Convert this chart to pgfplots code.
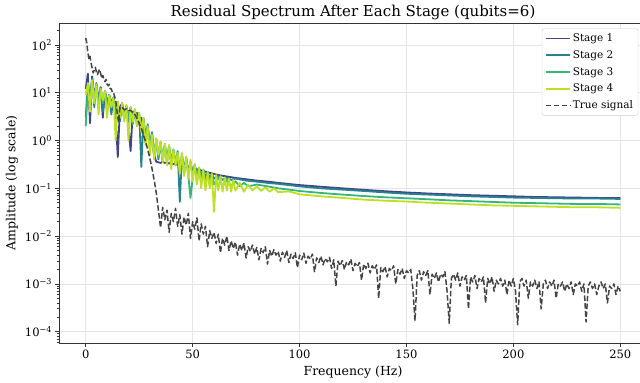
\documentclass[border=0pt]{standalone}
\usepackage{fontspec}
\setmainfont{DejaVu Serif}
\usepackage{pgfplots}
\pgfplotsset{compat=1.18}
\definecolor{stageone}{HTML}{414487}
\definecolor{stagetwo}{HTML}{26828E}
\definecolor{stagethree}{HTML}{35B779}
\definecolor{stagefour}{HTML}{BDDF26}
\definecolor{truesig}{HTML}{444444}
\begin{document}
\begin{tikzpicture}
\begin{axis}[name=ax,
  scale only axis, width=588bp, height=320bp,
  xmin=-12.5, xmax=262.5, ymode=log, ymin=5.8e-5, ymax=288,
  xtick={0,50,100,150,200,250},
  ytick={1e-4,1e-3,1e-2,1e-1,1,10,100},
  yticklabels={10\textsuperscript{−4},10\textsuperscript{−3},10\textsuperscript{−2},10\textsuperscript{−1},10\textsuperscript{0},10\textsuperscript{1},10\textsuperscript{2}},
  minor ytick={6e-5,7e-5,8e-5,9e-5,2e-4,3e-4,4e-4,5e-4,6e-4,7e-4,8e-4,9e-4,2e-3,3e-3,4e-3,5e-3,6e-3,7e-3,8e-3,9e-3,0.02,0.03,0.04,0.05,0.06,0.07,0.08,0.09,0.2,0.3,0.4,0.5,0.6,0.7,0.8,0.9,2,3,4,5,6,7,8,9,20,30,40,50,60,70,80,90,200},
  /pgf/number format/assume math mode=true,
  tick pos=left, tick align=outside,
  major tick length=3.5bp, minor tick length=2bp,
  tick style={line width=0.8bp, draw=black!80},
  axis line style={line width=0.8bp, draw=black!80},
  grid=major, grid style={line width=0.8bp, draw=black!10},
  tick label style={font=\fontsize{11.5bp}{13bp}\selectfont},
  label style={font=\fontsize{12.5bp}{15bp}\selectfont},
  title style={font=\fontsize{15bp}{18bp}\selectfont, yshift=-6bp},
  title={Residual Spectrum After Each Stage (qubits=6)},
  xlabel={Frequency (Hz)},
  ylabel={Amplitude (log scale)},
  legend cell align=left,
  legend style={at={(0.985,0.9825)}, anchor=north east, draw=black!20, rounded corners=2bp,
    fill=white, font=\fontsize{10.5bp}{12.6bp}\selectfont,
    row sep=3.5bp, inner xsep=3bp, inner ysep=3bp},
  legend image code/.code={\draw[#1] plot coordinates {(0bp,0bp) (24bp,0bp)};},
  every axis plot/.append style={line join=round},
]
\addplot[forget plot, color=stageone, line width=1.8bp] coordinates {
(0,12)(1,25)(2,2.3)(3,22)(4,8)(5,15)(6,6)(7,13)(8,3)(9,11)(10,5)(11,9)(12,6)(13,8)(14,3)(15,0.45)(16,5)(17,6)(18,3.5)(19,5)(20,2)(21,0.6)(22,4)(23,3)(24,3.8)(25,2.5)(26,3)(27,1.5)(28,0.9)(29,1.6)(30,0.9)(31,1.1)(32,0.5)(33,0.36)(34,0.35)(35,0.34)(36,0.36)(37,0.34)(38,0.35)(39,0.33)(40,0.34)(41,0.32)(42,0.33)(43,0.31)(44,0.31)(45,0.29)(46,0.3)(47,0.28)(48,0.27)(50,0.26)(52,0.25)(55,0.23)(58,0.21)(60,0.2)(62,0.19)(65,0.18)(70,0.165)(75,0.155)(80,0.145)(86,0.137)(90,0.13)(100,0.117)(110,0.108)(120,0.1)(130,0.093)(140,0.087)(150,0.082)(160,0.078)(170,0.075)(180,0.072)(190,0.07)(200,0.068)(210,0.066)(220,0.065)(230,0.064)(240,0.063)(250,0.063)
};
\addplot[forget plot, color=stagetwo, line width=1.8bp] coordinates {
(0,3)(1,14)(2,8)(3,20)(4,5)(5,16)(6,7)(7,13)(8,4)(9,11)(10,6)(11,9)(12,3.5)(13,8)(14,4)(15,6.5)(16,2.5)(17,6)(18,3)(19,5.5)(20,2.5)(21,5)(22,3)(23,4.5)(24,2)(25,3.8)(26,0.28)(27,3)(28,1.2)(29,2.2)(30,0.8)(31,1.5)(32,0.5)(33,1.0)(34,0.4)(35,0.9)(36,0.35)(37,0.8)(38,0.4)(39,0.75)(40,0.35)(41,0.65)(42,0.3)(43,0.6)(44,0.052)(45,0.5)(46,0.25)(47,0.42)(48,0.22)(49,0.36)(50,0.2)(51,0.3)(52,0.19)(53,0.27)(54,0.18)(55,0.24)(56,0.17)(57,0.22)(58,0.165)(59,0.2)(60,0.16)(62,0.18)(64,0.15)(66,0.17)(68,0.15)(70,0.16)(75,0.145)(80,0.138)(85,0.13)(90,0.124)(100,0.11)(110,0.1)(120,0.094)(130,0.088)(140,0.082)(150,0.077)(160,0.074)(170,0.071)(180,0.068)(190,0.066)(200,0.064)(210,0.063)(220,0.062)(230,0.061)(240,0.061)(250,0.06)
};
\addplot[forget plot, color=stagethree, line width=1.8bp] coordinates {
(0,2)(1,12)(2,6)(3,19)(4,7)(5,15)(6,5)(7,12)(8,6)(9,10)(10,4)(11,9)(12,5)(13,7.5)(14,3)(15,6)(16,3.5)(17,5.5)(18,2.8)(19,5)(20,3)(21,4.8)(22,2.2)(23,4.2)(24,2.5)(25,3.5)(26,1.8)(27,2.8)(28,1.0)(29,2)(30,0.7)(31,1.4)(32,0.45)(33,1.1)(34,0.45)(35,0.95)(36,0.4)(37,0.85)(38,0.35)(39,0.8)(40,0.3)(41,0.65)(42,0.35)(43,0.55)(44,0.25)(45,0.5)(46,0.2)(47,0.45)(48,0.18)(49,0.063)(50,0.16)(51,0.32)(52,0.14)(53,0.27)(54,0.13)(55,0.24)(56,0.12)(57,0.21)(58,0.12)(59,0.19)(60,0.12)(62,0.17)(64,0.11)(66,0.15)(68,0.11)(70,0.14)(72,0.11)(74,0.13)(76,0.11)(80,0.12)(85,0.11)(90,0.1)(100,0.088)(110,0.08)(120,0.074)(130,0.069)(140,0.065)(150,0.062)(160,0.059)(170,0.056)(180,0.054)(190,0.052)(200,0.05)(210,0.049)(220,0.048)(230,0.047)(240,0.047)(250,0.046)
};
\addplot[forget plot, color=stagefour, line width=1.8bp] coordinates {
(0,9)(1,16)(2,4)(3,18)(4,6)(5,15)(6,3.5)(7,12)(8,7)(9,11)(10,3)(11,9)(12,5)(13,8)(14,1.0)(15,6.5)(16,3)(17,6)(18,2.5)(19,5.5)(20,1.0)(21,5)(22,2.5)(23,4.5)(24,2)(25,3.8)(26,1.5)(27,3)(28,0.8)(29,2)(30,0.5)(31,1.3)(32,0.4)(33,1.1)(34,0.5)(35,0.95)(36,0.35)(37,0.85)(38,0.3)(39,0.8)(40,0.25)(41,0.65)(42,0.3)(43,0.55)(44,0.2)(45,0.55)(46,0.18)(47,0.45)(48,0.16)(49,0.4)(50,0.14)(51,0.32)(52,0.12)(53,0.27)(54,0.1)(55,0.25)(56,0.09)(57,0.22)(58,0.1)(59,0.2)(60,0.032)(61,0.19)(62,0.09)(63,0.18)(64,0.085)(65,0.17)(66,0.09)(67,0.16)(68,0.085)(69,0.15)(70,0.09)(72,0.13)(74,0.085)(76,0.12)(78,0.09)(80,0.11)(82,0.088)(84,0.105)(86,0.085)(88,0.1)(90,0.083)(95,0.086)(100,0.075)(110,0.068)(120,0.063)(130,0.058)(140,0.055)(150,0.053)(160,0.05)(170,0.048)(180,0.046)(190,0.044)(200,0.043)(210,0.042)(220,0.041)(230,0.040)(240,0.040)(250,0.039)
};
\addplot[forget plot, color=truesig, line width=1.5bp, dash pattern=on 5.5bp off 2.4bp] coordinates {
(0,140)(0.5,110)(1,70)(1.5,50)(2,58)(2.5,42)(3,33)(3.5,26)(4,30)(4.5,34)(5,27)(5.5,24)(6,28)(6.5,31)(7,25)(7.5,20)(8,23)(8.5,19)(9,17)(9.5,19)(10,15)(10.5,14)(11,15)(11.5,12)(12,12)(12.5,10)(13,10)(14,7)(15,3)(15.5,2.4)(16,5)(17,5)(18,4.4)(19,4.6)(20,4.2)(21,4.3)(22,3.8)(23,3.5)(24,2.9)(25,2.3)(26,1.8)(27,1.3)(28,0.95)(29,0.65)(30,0.42)(31,0.26)(32,0.15)(33,0.08)(34,0.035)(35,0.015)
(36,0.04)(37,0.022)(38,0.035)(39,0.012)(40,0.03)(41,0.02)(42,0.038)(43,0.016)(44,0.028)(45,0.011)(46,0.025)(47,0.017)(48,0.03)(49,0.009)(50,0.02)(51,0.014)(52,0.024)(53,0.008)(54,0.018)(55,0.011)(56,0.016)(57,0.006)(58,0.013)(59,0.009)(60,0.012)(61,0.007)(62,0.011)(63,0.0045)(64,0.009)(65,0.0065)(66,0.01)(67,0.005)(68,0.008)(69,0.0055)(70,0.0075)(71,0.004)(72,0.0068)(73,0.005)(74,0.0072)(75,0.0035)(76,0.006)(77,0.0048)(78,0.0065)(79,0.0042)(80,0.0058)(81,0.0032)(82,0.0055)(83,0.0045)(84,0.006)(85,0.0026)(86,0.005)(87,0.0038)(88,0.0052)(89,0.004)(90,0.0048)(91,0.003)(92,0.0046)(93,0.0036)(94,0.005)(95,0.0028)(96,0.0042)(97,0.0034)(98,0.0045)(99,0.0022)(100,0.004)
(101,0.0032)(102,0.0044)(103,0.0027)(104,0.0038)(105,0.0033)(106,0.0042)(107,0.0018)(108,0.0035)(109,0.0028)(110,0.0038)(111,0.0025)(112,0.0034)(113,0.0029)(114,0.0036)(115,0.0021)(116,0.0032)(117,0.0009)(118,0.003)(119,0.0024)(120,0.0031)(121,0.002)(122,0.0029)(123,0.0025)(124,0.0033)(125,0.0019)(126,0.0027)(127,0.0023)(128,0.0028)(129,0.0012)(130,0.0026)(131,0.0021)(132,0.0027)(133,0.0017)(134,0.0024)(135,0.002)(136,0.0025)(137,0.0005)(138,0.0022)(139,0.0018)(140,0.0023)(141,0.0014)(142,0.0021)(143,0.0019)(144,0.0024)(145,0.001)(146,0.002)(147,0.0016)(148,0.0021)(149,0.0013)(150,0.0019)
(151,0.0017)(152,0.002)(153,0.0008)(154,0.00017)(155,0.0015)(156,0.0019)(157,0.0012)(158,0.0018)(159,0.0015)(160,0.0019)(161,0.0006)(162,0.0016)(163,0.0013)(164,0.0017)(165,0.0011)(166,0.0016)(167,0.0014)(168,0.0018)(169,0.0007)(170,0.00015)(171,0.0013)(172,0.0016)(173,0.0012)(174,0.0017)(175,0.0009)(176,0.0014)(177,0.0012)(178,0.0015)(179,0.0003)(180,0.0014)(181,0.0011)(182,0.0015)(183,0.0008)(184,0.0013)(185,0.0011)(186,0.0014)(187,0.0004)(188,0.0013)(189,0.001)(190,0.0014)(191,0.0007)(192,0.0012)(193,0.001)(194,0.0013)(195,0.0009)(196,0.0012)(197,0.0006)(198,0.0012)(199,0.0009)(200,0.0013)
(201,0.0007)(202,0.00014)(203,0.0011)(204,0.0013)(205,0.0009)(206,0.0012)(207,0.0005)(208,0.0011)(209,0.0009)(210,0.0012)(211,0.0008)(212,0.0011)(213,0.0003)(214,0.001)(215,0.0012)(216,0.0008)(217,0.0011)(218,0.0009)(219,0.0012)(220,0.0005)(221,0.001)(222,0.0009)(223,0.0011)(224,0.0007)(225,0.001)(226,0.0008)(227,0.0011)(228,0.0006)(229,0.001)(230,0.0009)(231,0.0011)(232,0.0007)(233,0.001)(234,0.00016)(235,0.0009)(236,0.0011)(237,0.0008)(238,0.001)(239,0.0006)(240,0.0009)(241,0.0011)(242,0.0008)(243,0.001)(244,0.0004)(245,0.0009)(246,0.0008)(247,0.001)(248,0.0006)(249,0.0009)(250,0.0007)
};
\addlegendimage{color=stageone, line width=1.8bp}
\addlegendentry{Stage 1}
\addlegendimage{color=stagetwo, line width=1.8bp}
\addlegendentry{Stage 2}
\addlegendimage{color=stagethree, line width=1.8bp}
\addlegendentry{Stage 3}
\addlegendimage{color=stagefour, line width=1.8bp}
\addlegendentry{Stage 4}
\addlegendimage{color=truesig, line width=1.5bp, dash pattern=on 5.5bp off 2.4bp}
\addlegendentry{True signal}
\end{axis}
\pgfresetboundingbox
\path[use as bounding box] (ax.south west) ++(-59bp,-40bp) rectangle ++(640bp,383bp);
\end{tikzpicture}
\end{document}
